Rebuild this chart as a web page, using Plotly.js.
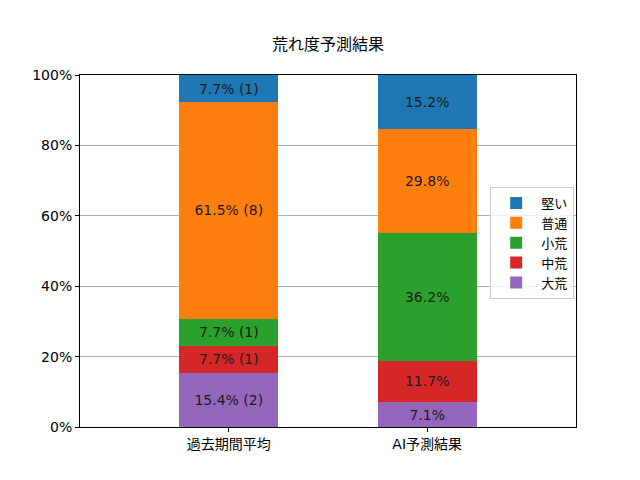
<!DOCTYPE html>
<html>
<head>
<meta charset="utf-8">
<script src="https://cdn.plot.ly/plotly-3.0.1.min.js"></script>
<style>
  html, body { margin: 0; padding: 0; background: #fff; }
  #chart { width: 640px; height: 480px; }
</style>
</head>
<body>
<div id="chart"></div>
<script>
// categories on the x axis
var categories = ['過去期間平均', 'AI予測結果']
// stack levels, bottom to top
var levels = ['大荒', '中荒', '小荒', '普通', '堅い']
// percentages per level
var past_pct = [15.4, 7.7, 7.7, 61.5, 7.7]
var past_count = [2, 1, 1, 8, 1]
var ai_pct = [7.1, 11.7, 36.2, 29.8, 15.2]
// y tick labels
var y_ticks = [0, 20, 40, 60, 80, 100]
var y_tick_text = ['0%', '20%', '40%', '60%', '80%', '100%']

var colors = ['#9467bd', '#d62728', '#2ca02c', '#ff7f0e', '#1f77b4']
var font_jp = '"DejaVu Sans", "Noto Sans CJK JP", sans-serif'

var traces = []
for (var i = 0; i < levels.length; i++) {
    traces.push({
        x: categories,
        y: [past_pct[i], ai_pct[i]],
        name: levels[i],
        type: 'bar',
        width: 0.5,
        marker: { color: colors[i], line: { width: 0 } },
        text: [past_pct[i].toFixed(1) + '% (' + past_count[i] + ')', ai_pct[i].toFixed(1) + '%'],
        textposition: 'inside',
        insidetextanchor: 'middle',
        constraintext: 'none',
        textangle: 0,
        textfont: { color: '#1a1a1a', size: 14, family: font_jp },
        hoverinfo: 'none'
    })
}

var layout = {
    width: 640,
    height: 480,
    margin: { l: 80, r: 64, t: 75, b: 53 },
    paper_bgcolor: '#ffffff',
    plot_bgcolor: '#ffffff',
    font: { family: font_jp, size: 14, color: '#000000' },
    barmode: 'stack',
    title: {
        text: '荒れ度予測結果',
        font: { size: 16, family: font_jp, color: '#000000' },
        x: 0.5,
        xref: 'paper',
        y: 0.908,
        yanchor: 'middle'
    },
    xaxis: {
        type: 'category',
        range: [-0.75, 1.75],
        showline: true,
        mirror: true,
        linecolor: '#000000',
        linewidth: 1,
        ticks: 'outside',
        ticklen: 4,
        tickcolor: '#000000',
        showgrid: false,
        zeroline: false,
        tickfont: { size: 14 }
    },
    yaxis: {
        range: [0, 100],
        tickmode: 'array',
        tickvals: y_ticks,
        ticktext: y_tick_text,
        showline: true,
        mirror: true,
        linecolor: '#000000',
        linewidth: 1,
        ticks: 'outside',
        ticklen: 4,
        tickcolor: '#000000',
        showgrid: true,
        gridcolor: '#b0b0b0',
        gridwidth: 1,
        zeroline: false,
        tickfont: { size: 14 }
    },
    showlegend: true,
    legend: {
        traceorder: 'reversed',
        x: 0.827,
        y: 0.682,
        xanchor: 'left',
        yanchor: 'top',
        bgcolor: 'rgba(255,255,255,0.8)',
        bordercolor: '#cccccc',
        borderwidth: 1,
        font: { size: 13 },
        itemwidth: 40
    }
}

Plotly.newPlot('chart', traces, layout, { displayModeBar: false, staticPlot: true })
</script>
</body>
</html>
